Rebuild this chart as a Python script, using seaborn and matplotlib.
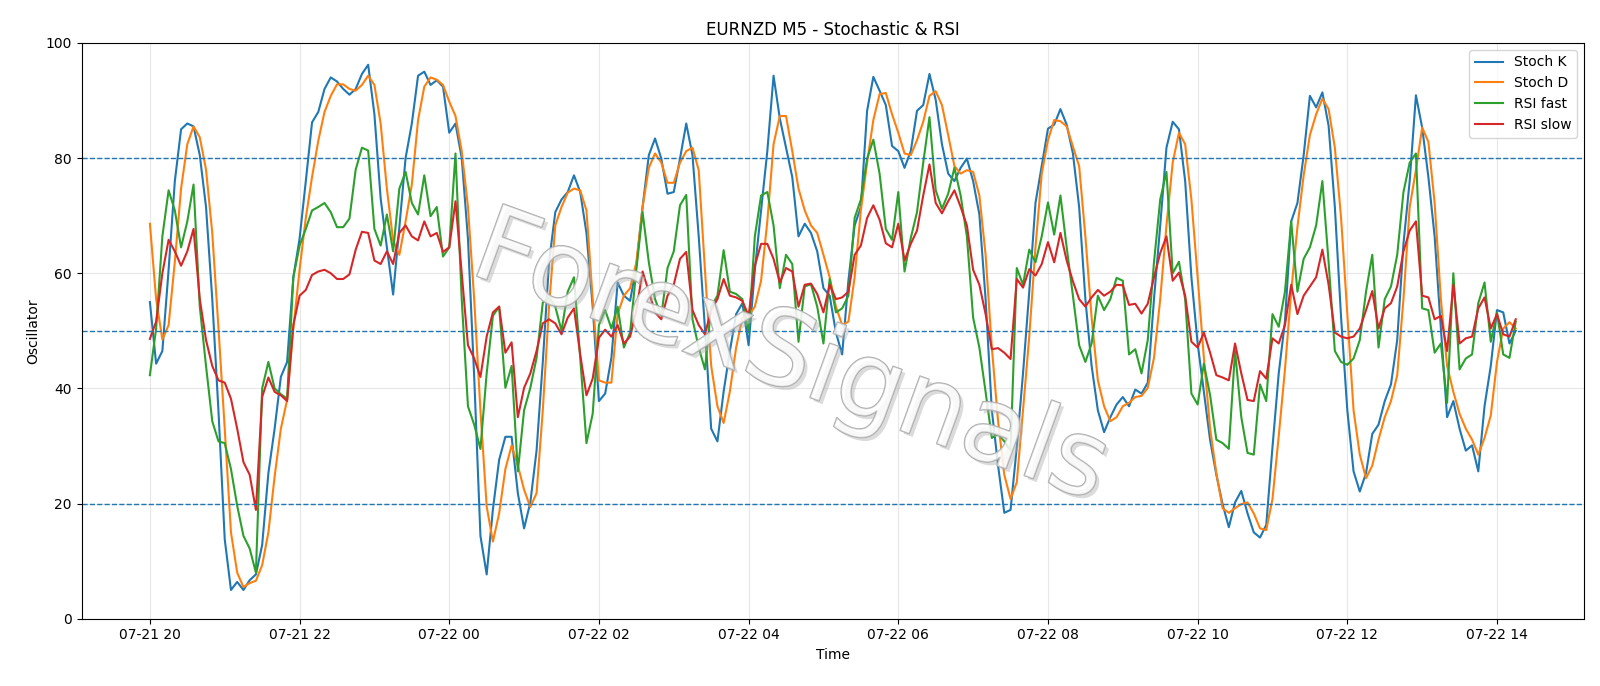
import numpy as np
import pandas as pd
import matplotlib
matplotlib.use("Agg")
import matplotlib.pyplot as plt
import matplotlib.dates as mdates
import matplotlib.patheffects as pe
import seaborn as sns

start_time = "2025-07-21 20:00"
n_points = 220

stoch_k = [
    55.0, 44.3, 46.5, 60.6, 76.0, 85.0, 86.0, 85.5, 80.5, 71.5,
    55.5, 36.0, 13.8, 5.0, 6.4, 5.0, 6.7, 7.7, 12.8, 25.3,
    33.0, 42.0, 44.6, 59.3, 66.0, 76.0, 86.2, 88.0, 92.0, 94.0,
    93.3, 92.0, 91.0, 92.0, 94.6, 96.2, 87.6, 73.0, 64.5, 56.3,
    68.0, 80.0, 86.0, 94.3, 95.0, 92.7, 93.5, 92.4, 84.4, 86.0,
    80.0, 66.0, 42.0, 14.4, 7.7, 19.0, 27.6, 31.6, 31.6, 21.8,
    15.7, 20.2, 29.2, 44.6, 61.9, 70.6, 72.8, 74.1, 77.0, 74.1,
    67.0, 54.2, 37.8, 39.1, 45.3, 58.4, 56.1, 55.2, 61.3, 71.5,
    80.5, 83.4, 79.9, 73.8, 74.1, 79.9, 86.0, 80.5, 66.4, 50.4,
    33.0, 30.8, 39.5, 46.5, 52.9, 54.8, 47.5, 60.6, 70.9, 81.2,
    94.3, 86.9, 81.8, 76.7, 66.4, 68.6, 67.0, 63.8, 57.4, 56.1,
    49.7, 45.9, 58.7, 68.3, 71.5, 88.2, 94.1, 91.7, 89.2, 82.1,
    81.2, 78.3, 81.2, 88.2, 89.2, 94.6, 90.1, 82.4, 77.3, 76.0,
    78.3, 79.9, 76.0, 70.2, 55.5, 36.2, 26.6, 18.4, 18.9, 29.8,
    42.6, 56.8, 72.2, 78.6, 85.1, 85.8, 88.5, 85.8, 80.8, 71.5,
    55.5, 43.9, 36.2, 32.4, 35.0, 37.2, 38.5, 36.9, 39.8, 39.1,
    41.0, 55.5, 68.3, 81.8, 86.3, 85.0, 76.0, 59.3, 47.8, 39.4,
    31.0, 25.0, 19.9, 15.9, 20.2, 22.2, 18.3, 15.0, 14.1, 16.3,
    29.8, 42.6, 51.6, 69.0, 72.2, 80.5, 90.8, 88.8, 91.4, 85.6,
    71.5, 52.3, 36.2, 25.6, 22.1, 25.3, 32.1, 33.7, 37.8, 40.7,
    48.4, 65.1, 76.0, 90.9, 85.3, 76.7, 66.4, 50.4, 35.0, 37.8,
    33.0, 29.2, 30.1, 25.6, 36.9, 43.9, 53.6, 53.2, 47.8, 50.0,
]

stoch_d = [
    68.6, 55.5, 48.5, 51.0, 62.0, 74.7, 82.4, 85.5, 83.6, 78.0,
    67.0, 50.4, 33.0, 15.0, 8.0, 5.5, 6.2, 6.6, 9.3, 15.0,
    24.7, 33.0, 38.0, 50.4, 60.6, 69.6, 76.7, 83.0, 88.0, 90.8,
    92.8, 92.8, 92.0, 91.7, 92.7, 94.3, 92.7, 86.0, 74.7, 65.7,
    63.2, 69.0, 75.4, 86.6, 92.4, 94.0, 93.6, 92.7, 89.8, 87.3,
    81.2, 71.5, 55.5, 36.2, 19.5, 13.4, 18.3, 26.0, 30.1, 26.6,
    22.4, 19.4, 21.8, 36.2, 54.2, 68.3, 71.5, 74.0, 74.7, 74.4,
    70.9, 55.5, 41.4, 41.0, 41.0, 52.9, 56.1, 57.4, 61.9, 71.5,
    78.3, 80.8, 79.2, 75.7, 75.7, 79.2, 81.2, 81.8, 77.9, 60.6,
    43.9, 36.9, 34.0, 39.5, 47.1, 52.3, 52.6, 54.2, 58.7, 69.0,
    82.4, 87.3, 87.3, 81.2, 74.7, 70.9, 68.3, 67.0, 63.2, 59.3,
    54.2, 51.0, 51.6, 59.3, 70.9, 79.2, 86.6, 91.1, 91.3, 87.6,
    84.4, 80.8, 80.5, 83.1, 86.3, 90.8, 91.6, 89.2, 84.0, 78.6,
    77.3, 77.9, 77.6, 73.5, 63.2, 47.1, 34.3, 25.0, 20.8, 23.7,
    36.2, 49.0, 64.5, 77.3, 83.1, 86.6, 86.4, 85.5, 82.0, 78.6,
    66.4, 52.3, 41.4, 36.9, 34.3, 35.0, 36.9, 37.5, 38.5, 38.7,
    40.1, 45.3, 55.5, 68.3, 79.2, 84.4, 82.4, 72.8, 59.3, 45.3,
    33.0, 25.3, 19.2, 18.4, 19.2, 19.9, 20.2, 18.3, 15.7, 15.4,
    20.8, 31.7, 43.3, 56.8, 68.0, 77.0, 84.0, 87.6, 90.3, 88.5,
    81.8, 69.6, 53.0, 36.2, 28.5, 24.4, 26.6, 31.1, 35.0, 37.8,
    42.3, 55.5, 71.5, 77.9, 85.3, 82.8, 72.2, 55.5, 43.9, 39.4,
    35.6, 33.0, 31.1, 28.5, 31.4, 35.3, 44.6, 50.4, 51.5, 50.4,
]

rsi_fast = [
    42.3, 50.4, 66.4, 74.4, 70.9, 64.5, 69.0, 75.4, 54.2, 43.9,
    34.3, 30.8, 30.5, 26.0, 19.6, 14.4, 12.2, 8.0, 40.0, 44.6,
    40.0, 39.0, 38.2, 59.3, 64.8, 67.7, 70.9, 71.5, 72.2, 70.6,
    68.0, 68.0, 69.5, 78.0, 81.8, 81.3, 67.7, 64.8, 70.2, 63.8,
    74.7, 77.6, 72.2, 70.2, 77.0, 69.9, 71.5, 62.9, 64.5, 80.8,
    55.5, 36.9, 33.7, 29.5, 42.6, 52.6, 54.2, 40.1, 43.9, 25.6,
    36.2, 40.1, 45.3, 54.9, 55.8, 54.2, 50.0, 56.8, 59.3, 45.3,
    30.5, 35.6, 51.0, 53.6, 50.4, 54.2, 47.1, 49.7, 60.6, 70.6,
    61.9, 55.5, 52.6, 60.9, 63.8, 71.8, 73.6, 52.0, 47.1, 43.3,
    54.2, 56.1, 64.0, 56.8, 56.4, 55.5, 49.7, 66.4, 73.5, 74.1,
    68.3, 57.4, 63.2, 61.6, 48.1, 57.7, 58.1, 54.2, 47.8, 59.0,
    53.2, 53.9, 56.1, 69.6, 72.8, 79.9, 83.2, 77.3, 67.7, 65.8,
    74.1, 60.3, 66.1, 70.6, 79.2, 87.1, 74.4, 71.2, 73.8, 78.3,
    73.5, 66.4, 52.3, 47.1, 39.4, 31.4, 32.1, 30.8, 29.2, 60.9,
    58.0, 64.1, 61.9, 66.4, 72.3, 66.7, 73.5, 64.5, 56.1, 47.5,
    44.6, 47.8, 56.1, 53.6, 55.5, 59.2, 58.7, 45.9, 46.8, 42.6,
    48.4, 61.9, 72.8, 77.6, 60.0, 62.0, 55.5, 39.1, 37.2, 44.3,
    38.8, 31.1, 30.5, 29.5, 46.5, 35.0, 28.8, 28.5, 40.7, 37.8,
    52.9, 50.7, 56.8, 69.0, 56.8, 62.5, 64.5, 68.3, 76.0, 61.9,
    46.5, 44.6, 44.1, 45.2, 48.4, 56.8, 63.2, 47.1, 55.5, 57.7,
    63.2, 74.1, 79.2, 80.8, 53.9, 53.6, 46.2, 47.8, 37.5, 60.0,
    43.3, 45.2, 45.9, 54.8, 58.4, 48.1, 53.2, 45.9, 45.3, 51.6,
]

rsi_slow = [
    48.6, 51.6, 60.0, 65.8, 63.8, 61.3, 63.8, 67.7, 55.5, 48.4,
    43.9, 41.4, 41.0, 38.2, 33.0, 27.2, 25.0, 18.9, 38.5, 41.9,
    39.4, 38.8, 37.8, 51.0, 56.1, 57.1, 59.7, 60.3, 60.6, 60.0,
    59.0, 59.0, 59.8, 64.1, 67.2, 67.0, 62.2, 61.6, 63.8, 61.6,
    67.0, 68.3, 66.4, 65.7, 69.0, 66.4, 67.0, 63.7, 64.5, 72.5,
    60.0, 47.5, 45.2, 42.0, 49.0, 53.2, 54.2, 46.2, 48.0, 35.0,
    40.1, 42.6, 46.5, 51.3, 52.0, 51.3, 49.4, 52.3, 53.9, 45.9,
    38.8, 41.7, 48.8, 50.2, 49.0, 51.0, 47.8, 49.0, 53.6, 60.3,
    56.8, 53.2, 52.0, 56.1, 58.0, 62.5, 63.7, 53.6, 51.0, 49.4,
    53.6, 55.5, 59.0, 56.1, 55.8, 55.2, 52.6, 61.3, 65.1, 65.1,
    62.5, 58.4, 60.9, 60.3, 54.2, 58.0, 58.2, 56.4, 53.2, 58.0,
    55.5, 55.8, 56.8, 63.2, 64.8, 69.6, 71.8, 69.3, 65.2, 64.5,
    68.6, 62.2, 65.1, 67.4, 73.5, 78.9, 72.2, 70.4, 72.5, 74.4,
    71.5, 68.3, 60.6, 58.0, 52.9, 46.8, 47.0, 46.2, 45.1, 59.0,
    57.5, 60.7, 59.6, 61.6, 65.4, 61.9, 67.0, 62.2, 58.6, 55.5,
    54.2, 55.8, 57.1, 56.1, 56.8, 58.0, 57.9, 54.5, 54.7, 53.0,
    54.7, 59.3, 63.5, 66.4, 58.7, 60.1, 56.1, 48.1, 47.1, 49.7,
    46.2, 42.3, 41.9, 41.4, 47.8, 42.6, 38.0, 37.8, 43.0, 41.7,
    48.7, 47.8, 51.0, 58.0, 52.9, 56.1, 57.7, 59.3, 64.1, 58.0,
    49.7, 49.0, 48.7, 49.0, 50.4, 53.6, 56.9, 50.4, 53.9, 54.8,
    57.7, 63.8, 67.4, 69.0, 56.1, 55.8, 52.0, 52.6, 46.5, 58.0,
    47.8, 48.7, 49.0, 53.9, 55.8, 50.4, 52.9, 49.4, 49.0, 52.0,
]

levels = [80, 50, 20]
series_names = ["Stoch K", "Stoch D", "RSI fast", "RSI slow"]
title = "EURNZD M5 - Stochastic & RSI"
watermark = "ForexSignals"

times = pd.date_range(start_time, periods=n_points, freq="5min")
series = [stoch_k, stoch_d, rsi_fast, rsi_slow]
frames = []
for name, vals in zip(series_names, series):
    m = min(len(vals), len(times))
    frames.append(pd.DataFrame({"Time": times[:m], "Value": vals[:m], "Series": name}))
df = pd.concat(frames, ignore_index=True)

plt.rcParams["font.family"] = ["DejaVu Sans"]
fig, ax = plt.subplots(figsize=(16, 6.86), dpi=100)
fig.subplots_adjust(left=0.051, right=0.99, top=0.9375, bottom=0.098)

palette = ["#1f77b4", "#ff7f0e", "#2ca02c", "#d62728"]
sns.lineplot(data=df, x="Time", y="Value", hue="Series", hue_order=series_names,
             palette=palette, linewidth=1.5, ax=ax, estimator=None, sort=False)

for lv in levels:
    ax.axhline(lv, color="#1f77b4", linestyle="--", linewidth=1.0)

ax.set_ylim(0, 100)
ax.grid(True, color="#b0b0b0", alpha=0.3, linewidth=0.8)
ax.xaxis.set_major_locator(mdates.HourLocator(byhour=range(0, 24, 2)))
ax.xaxis.set_major_formatter(mdates.DateFormatter("%m-%d %H"))
ax.set_title(title, fontsize=12)
ax.set_xlabel("Time", fontsize=10)
ax.set_ylabel("Oscillator", fontsize=10)
ax.tick_params(labelsize=10)
ax.legend(loc="upper right", fontsize=10, framealpha=0.8)

ax.text(0.472, 0.45, watermark, transform=ax.transAxes, fontsize=76,
        rotation=-20, ha="center", va="center",
        color=(1, 1, 1, 0.45), zorder=5,
        path_effects=[pe.withSimplePatchShadow(offset=(2.5, -2.5), shadow_rgbFace="#b0b0b0", alpha=0.45),
                      pe.Stroke(linewidth=1.1, foreground="#a8a8a8"), pe.Normal()])

fig.savefig("out.png", dpi=100)
